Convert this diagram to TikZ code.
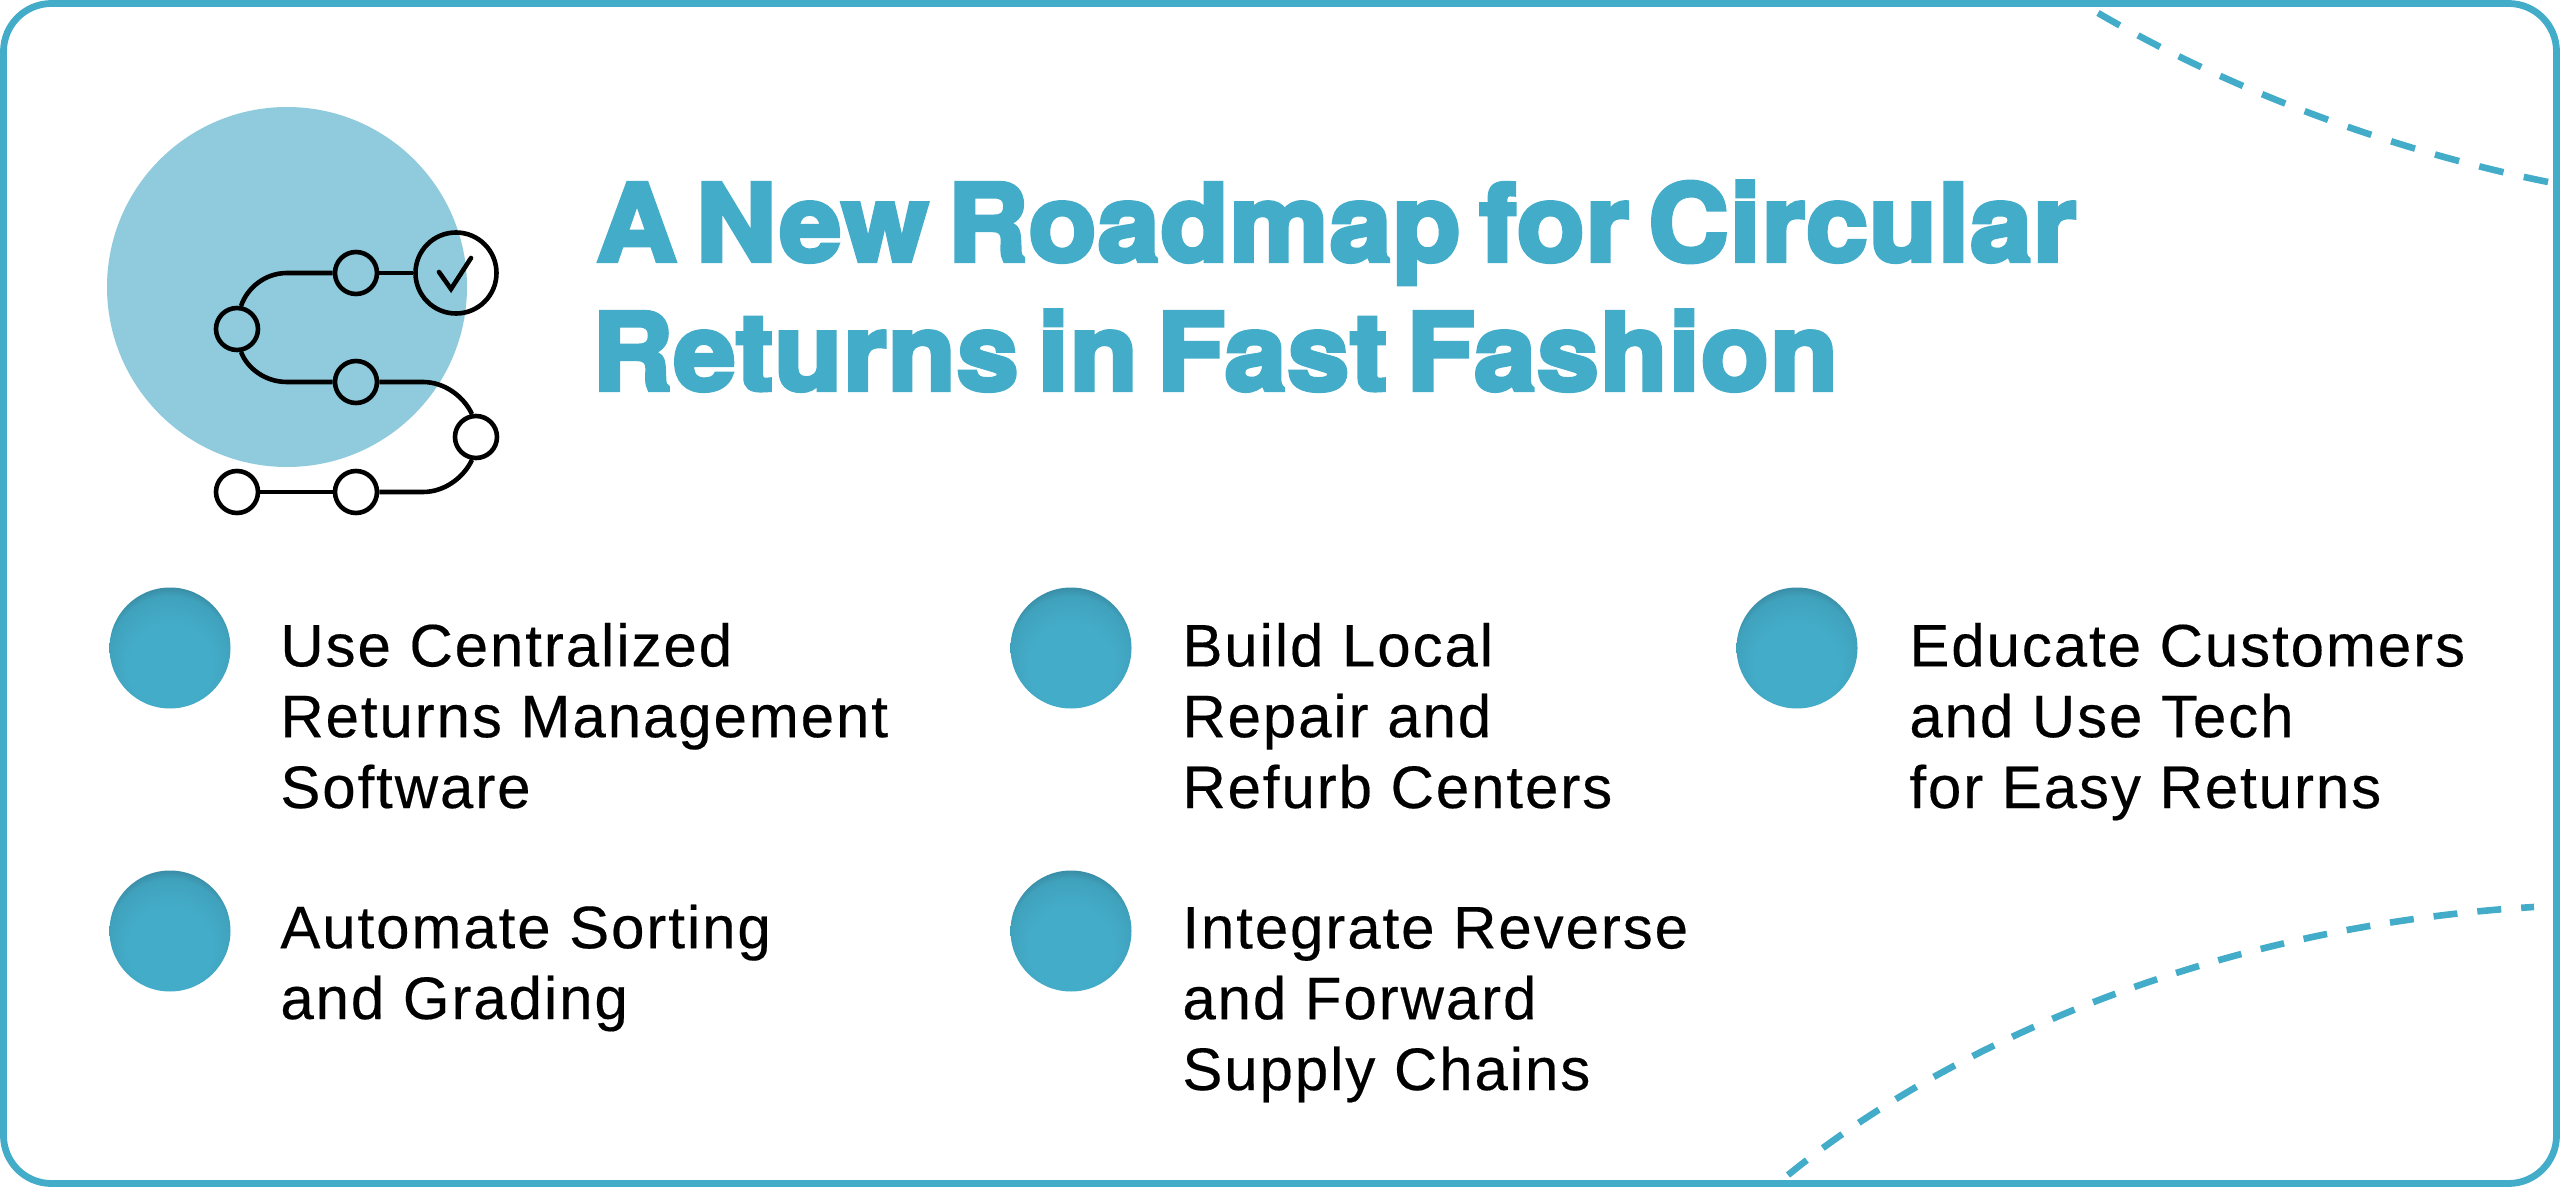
\documentclass[tikz,border=0pt]{standalone}
\usepackage{fontspec}
\setmainfont{Liberation Sans}
\newfontfamily\titlefont[FakeBold=4,FakeStretch=1.04,LetterSpace=1,WordSpace=0.6]{TeX Gyre Heros Bold}
\newfontfamily\bodyfont[LetterSpace=3.2,FakeBold=0.3]{Liberation Sans}
\definecolor{teal}{HTML}{43ACC9}
\definecolor{pale}{HTML}{8FCBDC}
\definecolor{tealdark}{HTML}{3A8DA6}
\definecolor{tealmid}{HTML}{40A2BD}
\pgfdeclareradialshading{bulletshade}{\pgfpoint{0bp}{-15bp}}{
  color(0bp)=(teal); color(17.5bp)=(teal); color(25.5bp)=(tealmid); color(28bp)=(tealdark); color(35bp)=(tealdark)}
\tikzset{
  px/.style={x=0.5pt,y=-0.5pt},
  waypoint/.style={circle,draw=black,line width=2.3pt,minimum size=21pt,inner sep=0pt},
  route/.style={draw=black,line width=2.3pt},
  dashtop/.style={draw=teal,line width=3.3pt,dash pattern=on 12.5pt off 10.4pt},
  dashbottom/.style={draw=teal,line width=3.3pt,dash pattern=on 12pt off 10pt},
  bullet/.style={circle,minimum size=60.5pt,inner sep=0pt,shade,shading=bulletshade},
  headline/.style={anchor=base west,inner sep=0pt,font=\titlefont\fontsize{53.5}{55}\selectfont,text=teal},
  item/.style={anchor=base west,inner sep=0pt,align=left,font=\bodyfont\fontsize{30}{35.4}\selectfont,text=black},
}
\begin{document}
\begin{tikzpicture}[px]
\useasboundingbox (0,0) rectangle (2560,1187);
\fill[white] (0,0) rectangle (2560,1187);
\draw[teal,line width=3.4pt,rounded corners=24pt] (3.5,3.5) rectangle (2556.5,1183.5);
\draw[dashtop] (2098,13) .. controls (2230,90) and (2390,150) .. (2548,182);
\draw[dashbottom] (1788,1175) .. controls (1960,1035) and (2230,925) .. (2534,907);
\fill[pale] (287,287) circle (90pt);
\node[waypoint] (n1) at (356,273) {};
\node[waypoint,minimum size=40.5pt] (n2) at (456,273) {};
\node[waypoint] (n3) at (237,329) {};
\node[waypoint] (n4) at (356,382) {};
\node[waypoint] (n5) at (476,437) {};
\node[waypoint] (n6) at (237,492) {};
\node[waypoint] (n7) at (356,492) {};
\draw[route] (n1) -- (n2);
\draw[route] (n1.west) -- (287,273) .. controls (265,273) and (247,288) .. (n3.80);
\draw[route] (n3.-80) .. controls (247,368) and (265,382) .. (287,382) -- (n4.west);
\draw[route] (n4.east) -- (423,382) .. controls (445,382) and (464,397) .. (n5.100);
\draw[route] (n5.-100) .. controls (464,477) and (445,492) .. (423,492) -- (n7.east);
\draw[route] (n7) -- (n6);
\coordinate (c1) at (439,272);
\coordinate (c2) at (451,289);
\coordinate (c3) at (471,258);
\draw[route,line cap=round,line join=miter] (c1) -- (c2) -- (c3);
\node[bullet] (b1) at (170,648) {};
\node[bullet] (b2) at (170,931) {};
\node[bullet] (b3) at (1071,648) {};
\node[bullet] (b4) at (1071,931) {};
\node[bullet] (b5) at (1797,648) {};
\node[headline] (t1) at (596,261) {A New Roadmap for Circular};
\node[headline] (t2) at (592,390) {Returns in Fast Fashion};
\node[item] (i1) at (280,808) {Use Centralized\\Returns Management\\Software};
\node[item] (i2) at (280,1019) {Automate Sorting\\and Grading};
\node[item] (i3) at (1182,808) {Build Local\\Repair and\\Refurb Centers};
\node[item] (i4) at (1182,1090) {Integrate Reverse\\and Forward\\Supply Chains};
\node[item] (i5) at (1909,808) {Educate Customers\\and Use Tech\\for Easy Returns};
\end{tikzpicture}
\end{document}
